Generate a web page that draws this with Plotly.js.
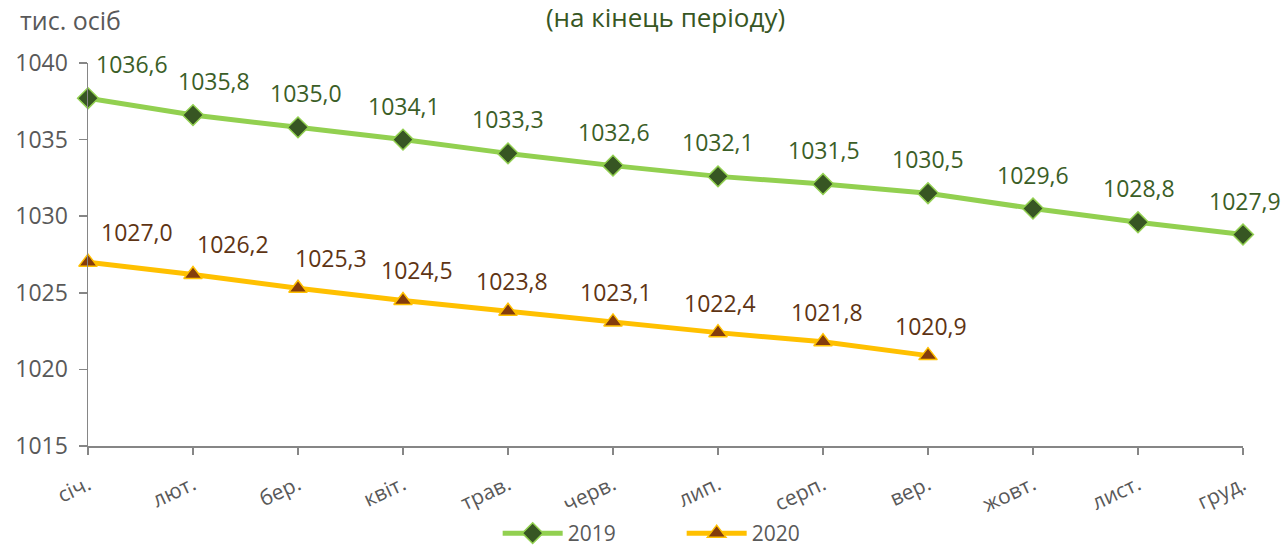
<!DOCTYPE html>
<html>
<head>
<meta charset="utf-8">
<script src="https://cdn.plot.ly/plotly-3.0.1.min.js"></script>
<style>html,body{margin:0;padding:0;background:#fff;}#chart{width:1283px;height:550px;}</style>
</head>
<body>
<div id="chart"></div>
<script>
// ---- data ----
const months = ['січ.', 'лют.', 'бер.', 'квіт.', 'трав.', 'черв.', 'лип.', 'серп.', 'вер.', 'жовт.', 'лист.', 'груд.'];
const values2019 = [1037.7, 1036.6, 1035.8, 1035.0, 1034.1, 1033.3, 1032.6, 1032.1, 1031.5, 1030.5, 1029.6, 1028.8];
const labels2019 = [1036.6, 1035.8, 1035.0, 1034.1, 1033.3, 1032.6, 1032.1, 1031.5, 1030.5, 1029.6, 1028.8, 1027.9];
const values2020 = [1027.0, 1026.2, 1025.3, 1024.5, 1023.8, 1023.1, 1022.4, 1021.8, 1020.9];
const labels2020 = [1027.0, 1026.2, 1025.3, 1024.5, 1023.8, 1023.1, 1022.4, 1021.8, 1020.9];
const yTicks = [1015, 1020, 1025, 1030, 1035, 1040];

// ---- style ----
const FONT = 'Open Sans, sans-serif';
const GREY = '#595959';
const AXIS = '#868686';
const shift2019 = [44, 21, 8, 1, 0, 1, 0, 1, 0, 0, 1, 2];
const shift2020 = [49, 40, 33, 14, 4, 3, 2, 4, 3];
const fmt = v => v.toFixed(1).replace('.', ',');

const traces = [
  {
    x: months, y: values2019, name: '2019', type: 'scatter', mode: 'lines+markers',
    line: {color: '#92D050', width: 5},
    marker: {symbol: 'diamond', size: 16, color: '#375623', line: {color: '#92D050', width: 1.5}},
    cliponaxis: false
  },
  {
    x: months.slice(0, values2020.length), y: values2020, name: '2020', type: 'scatter', mode: 'lines+markers',
    line: {color: '#FFC000', width: 5},
    marker: {symbol: 'triangle-up', size: 16, color: '#843C0C', line: {color: '#FFC000', width: 1.5}},
    cliponaxis: false
  }
];

const annotations = [];
labels2019.forEach((v, i) => annotations.push({
  x: months[i], y: values2019[i], xref: 'x', yref: 'y', text: fmt(v), showarrow: false,
  xshift: shift2019[i], yshift: 34, font: {family: FONT, size: 23, color: '#3B5E27'}
}));
labels2020.forEach((v, i) => annotations.push({
  x: months[i], y: values2020[i], xref: 'x', yref: 'y', text: fmt(v), showarrow: false,
  xshift: shift2020[i], yshift: 30, font: {family: FONT, size: 23, color: '#5E3414'}
}));
annotations.push({
  xref: 'paper', yref: 'paper', x: -0.061, y: 1.112, xanchor: 'left', yanchor: 'middle',
  text: 'тис. осіб', showarrow: false, font: {family: FONT, size: 25, color: GREY}
});

const layout = {
  width: 1283, height: 550,
  margin: {l: 88, r: 40, t: 63, b: 104, autoexpand: false},
  paper_bgcolor: '#ffffff', plot_bgcolor: '#ffffff',
  title: {text: '(на кінець періоду)', x: 0.5, xref: 'paper', xanchor: 'center', y: 0.968, yanchor: 'middle',
          font: {family: FONT, size: 26, color: '#375623'}},
  xaxis: {
    type: 'category', range: [0, 11], showgrid: false, zeroline: false, automargin: false,
    showline: true, linecolor: AXIS, linewidth: 1.5,
    ticks: 'outside', ticklen: 7, tickcolor: AXIS, tickwidth: 1.5,
    tickangle: -25, tickfont: {family: FONT, size: 21, color: GREY}, ticklabelstandoff: 10
  },
  yaxis: {
    range: [1015, 1040], tickvals: yTicks, showgrid: false, zeroline: false, automargin: false,
    showline: true, linecolor: AXIS, linewidth: 1.5,
    ticks: 'outside', ticklen: 8, tickcolor: AXIS, tickwidth: 1.5,
    tickfont: {family: FONT, size: 23, color: GREY}, ticklabelstandoff: 6
  },
  legend: {orientation: 'h', x: 0.514, xanchor: 'center', yref: 'container', y: 0.03, yanchor: 'middle',
           font: {family: FONT, size: 21, color: GREY}, itemwidth: 60, entrywidth: 109},
  annotations: annotations,
  showlegend: true
};

Plotly.newPlot('chart', traces, layout, {staticPlot: true, displayModeBar: false});
</script>
</body>
</html>
